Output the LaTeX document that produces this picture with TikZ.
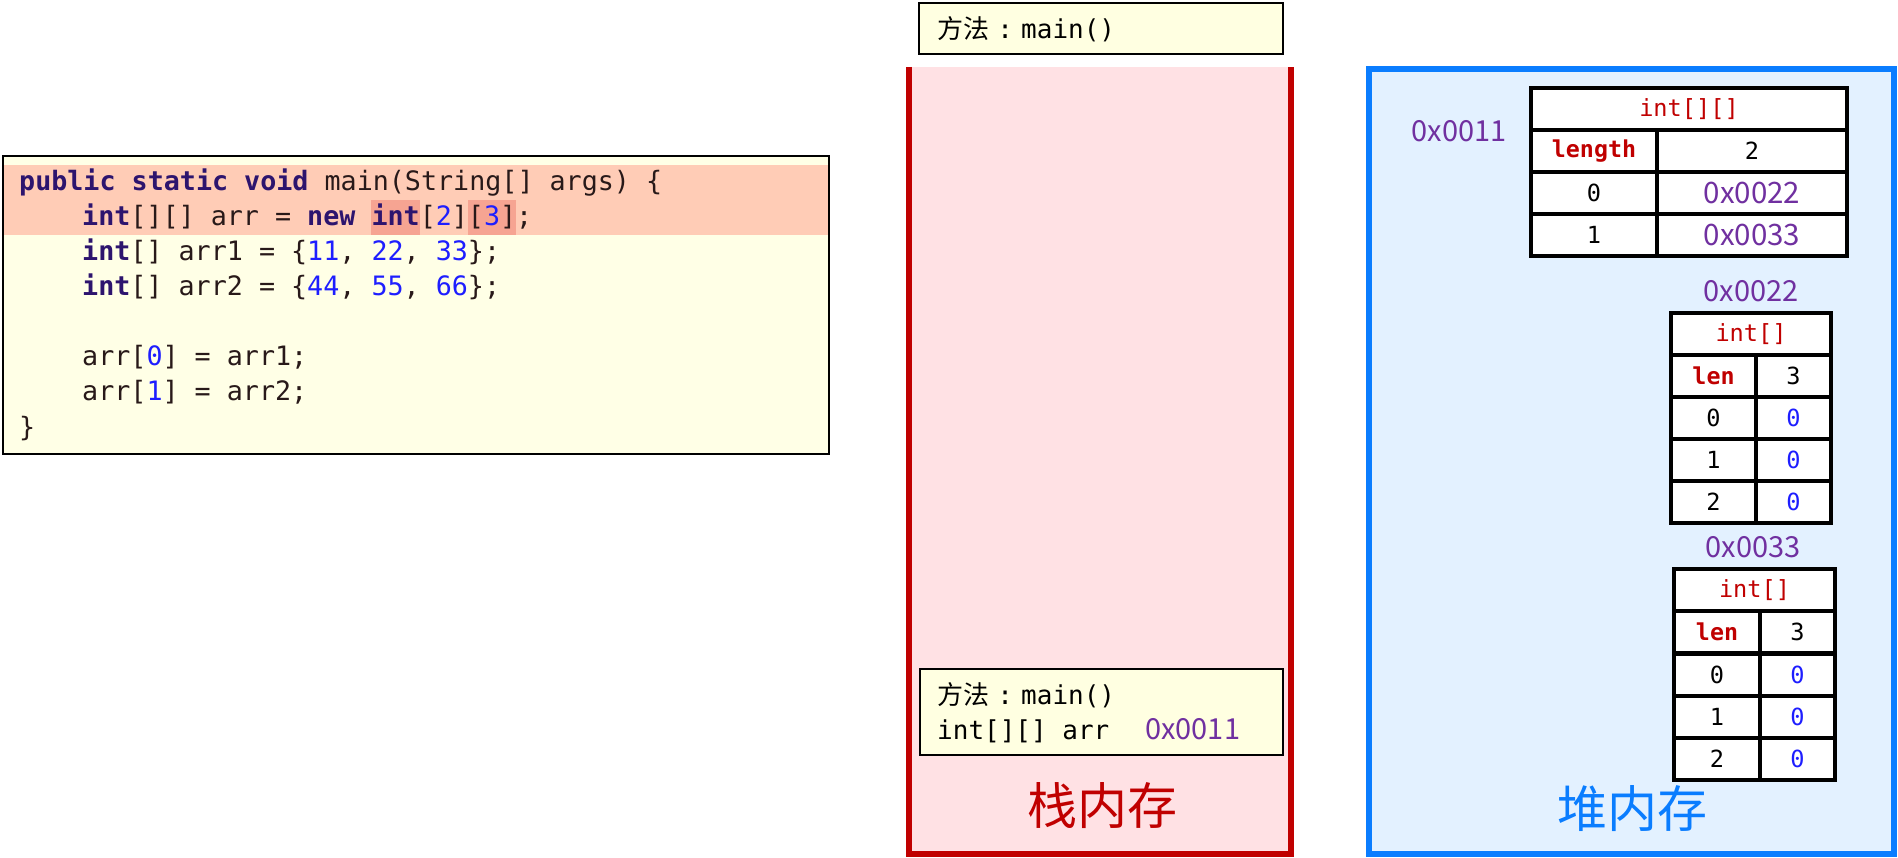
\documentclass[tikz,border=0pt]{standalone}
\usepackage{xcolor}
\usepackage{fontspec}
\setmainfont{Noto Sans CJK SC}
\setmonofont{DejaVu Sans Mono}
\newfontfamily\cjk{Noto Sans CJK SC}
\usepackage{tikz}

\definecolor{codebg}{RGB}{255,255,230}
\definecolor{linehl}{RGB}{255,204,182}
\definecolor{wordhl}{RGB}{246,164,146}
\definecolor{kwcol}{RGB}{45,20,110}
\definecolor{numcol}{RGB}{30,30,255}
\definecolor{txtcol}{RGB}{40,25,25}
\definecolor{stackred}{RGB}{192,0,0}
\definecolor{stackbg}{RGB}{255,225,228}
\definecolor{heapblue}{RGB}{10,125,255}
\definecolor{heapbg}{RGB}{227,241,255}
\definecolor{addrcol}{RGB}{112,48,160}
\definecolor{framebg}{RGB}{255,255,225}

\newcommand\kw[1]{{\color{kwcol}\bfseries #1}}
\newcommand\num[1]{{\color{numcol}#1}}
\newcommand\method{{\cjk 方法}\makebox[32pt][c]{:}}

\tikzset{
  codeline/.style={anchor=base west, inner sep=0pt, text=txtcol,
    font=\ttfamily\fontsize{26.7}{35}\selectfont},
  framebox/.style={draw, line width=2pt, fill=framebg, inner sep=0pt},
  frametext/.style={anchor=base west, inner sep=0pt,
    font=\ttfamily\fontsize{26}{35}\selectfont},
  addrtext/.style={text=addrcol, inner sep=0pt, font=\cjk\fontsize{29}{36}\selectfont},
  cell/.style={draw, line width=4pt, fill=white, inner sep=0pt,
    font=\ttfamily\fontsize{23.6}{28}\selectfont},
  headcell/.style={cell, text=stackred},
  lencell/.style={cell, text=stackred, font=\ttfamily\bfseries\fontsize{23.3}{28}\selectfont},
  addrcell/.style={cell, text=addrcol, font=\cjk\fontsize{29.5}{36}\selectfont},
  zerocell/.style={cell, text=numcol},
  memlabel/.style={inner sep=0pt, font=\cjk\fontsize{50}{56}\selectfont}
}

\begin{document}
\begin{tikzpicture}[x=1pt, y=-1pt]
  \useasboundingbox (0,0) rectangle (1898,858);

  % source code
  \draw[line width=2pt, fill=codebg] (2.5,156) rectangle (829,454);
  \fill[linehl] (3.5,165) rectangle (828,235);
  \fill[wordhl] (371.3,200) rectangle (419.5,235);
  \fill[wordhl] (467.7,200) rectangle (515.9,235);
  \node[codeline] (c1) at (19,191) {\kw{public static void} main(String[] args) \{};
  \node[codeline] (c2) at (82,226) {\kw{int}[][] arr = \kw{new} \kw{int}[\num{2}][\num{3}];};
  \node[codeline] (c3) at (82,261) {\kw{int}[] arr1 = \{\num{11}, \num{22}, \num{33}\};};
  \node[codeline] (c4) at (82,296) {\kw{int}[] arr2 = \{\num{44}, \num{55}, \num{66}\};};
  \node[codeline] (c5) at (82,366) {arr[\num{0}] = arr1;};
  \node[codeline] (c6) at (82,401) {arr[\num{1}] = arr2;};
  \node[codeline] (c7) at (19,436) {\}};

  % stack
  \fill[stackbg] (909,67) rectangle (1291,854);
  \draw[stackred, line width=6pt] (909,67) -- (909,854) -- (1291,854) -- (1291,67);
  \node[framebox, minimum width=364, minimum height=51] (topframe) at (1101,28.5) {};
  \node[frametext] (toplabel) at (937,39) {\method main()};
  \node[framebox, minimum width=363, minimum height=86] (mainframe) at (1101.5,712) {};
  \node[frametext] (mainlabel) at (937,704) {\method main()};
  \node[frametext] (arrvar) at (937,739) {int[][] arr};
  \node[addrtext, anchor=base west] (arrval) at (1145,739) {0x0011};
  \node[memlabel, text=stackred] (stacklabel) at (1102,806) {栈内存};

  % heap
  \draw[heapblue, line width=6pt, fill=heapbg] (1369,69) rectangle (1894,854);
  \node[memlabel, text=heapblue] (heaplabel) at (1632,809) {堆内存};

  \node[addrtext] (addr11) at (1459,131) {0x0011};
  \node[headcell, minimum width=316, minimum height=42] (outerhead) at (1689,109) {int[][]};
  \node[lencell, minimum width=126, minimum height=42] (outerlen) at (1594,151) {length};
  \node[cell, minimum width=190, minimum height=42] (outerlenval) at (1752,151) {2};
  \node[cell, minimum width=126, minimum height=42] (outeri0) at (1594,193) {0};
  \node[addrcell, minimum width=190, minimum height=42] (outerv0) at (1752,193) {0x0022};
  \node[cell, minimum width=126, minimum height=42] (outeri1) at (1594,235) {1};
  \node[addrcell, minimum width=190, minimum height=42] (outerv1) at (1752,235) {0x0033};

  \node[addrtext] (addr22) at (1751,291) {0x0022};
  \node[headcell, minimum width=160, minimum height=42] (firsthead) at (1751,334) {int[]};
  \node[lencell, minimum width=85, minimum height=42] (firstlen) at (1713.5,376) {len};
  \node[cell, minimum width=75, minimum height=42] (firstlenval) at (1793.5,376) {3};
  \node[cell, minimum width=85, minimum height=42] (firsti0) at (1713.5,418) {0};
  \node[zerocell, minimum width=75, minimum height=42] (firstv0) at (1793.5,418) {0};
  \node[cell, minimum width=85, minimum height=42] (firsti1) at (1713.5,460) {1};
  \node[zerocell, minimum width=75, minimum height=42] (firstv1) at (1793.5,460) {0};
  \node[cell, minimum width=85, minimum height=42] (firsti2) at (1713.5,502) {2};
  \node[zerocell, minimum width=75, minimum height=42] (firstv2) at (1793.5,502) {0};

  \node[addrtext] (addr33) at (1753,547) {0x0033};
  \node[headcell, minimum width=161, minimum height=42] (secondhead) at (1754.5,590) {int[]};
  \node[lencell, minimum width=86, minimum height=42] (secondlen) at (1717,632) {len};
  \node[cell, minimum width=75, minimum height=42] (secondlenval) at (1797.5,632) {3};
  \node[cell, minimum width=86, minimum height=42] (secondi0) at (1717,674.5) {0};
  \node[zerocell, minimum width=75, minimum height=42] (secondv0) at (1797.5,674.5) {0};
  \node[cell, minimum width=86, minimum height=42] (secondi1) at (1717,717) {1};
  \node[zerocell, minimum width=75, minimum height=42] (secondv1) at (1797.5,717) {0};
  \node[cell, minimum width=86, minimum height=42] (secondi2) at (1717,759) {2};
  \node[zerocell, minimum width=75, minimum height=42] (secondv2) at (1797.5,759) {0};
\end{tikzpicture}
\end{document}
